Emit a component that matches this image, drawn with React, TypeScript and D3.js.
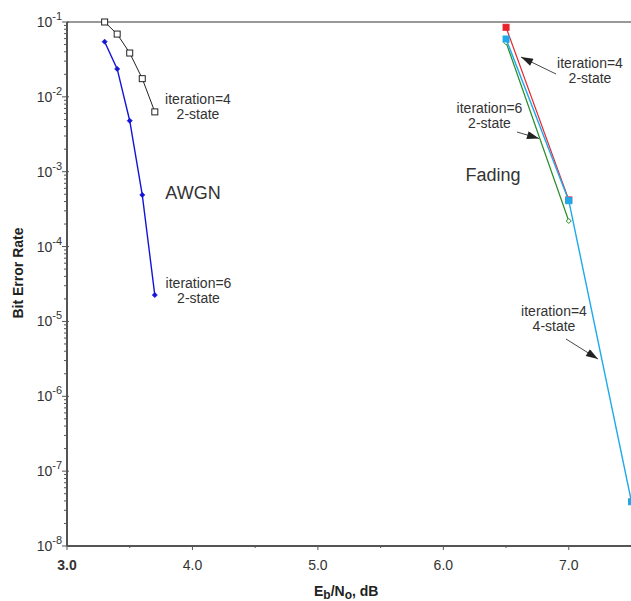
import * as d3 from 'd3';
import { useEffect, useRef } from 'react';

// Eb/No (dB) values of each curve
const ebnoAwgn = [3.3, 3.4, 3.5, 3.6, 3.7];
const ebnoFading2 = [6.5, 7.0];
const ebnoFading4 = [6.5, 7.0, 7.5];

// bit error rates
const berAwgnIt4 = [0.1, 0.069, 0.0385, 0.0175, 0.0063];
const berAwgnIt6 = [0.0546, 0.0236, 0.0048, 4.9e-4, 2.25e-5];
const berFadingIt4 = [0.085, 4.2e-4];
const berFadingIt6 = [0.0535, 2.2e-4];
const berFading4State = [0.0593, 4.1e-4, 3.9e-8];

const xTicks = [3, 4, 5, 6, 7];
const yExponents = [-1, -2, -3, -4, -5, -6, -7, -8];

const W = 631;
const H = 601;
const FONT = '"Liberation Sans", Arial, Helvetica, sans-serif';

const App = () => {
  const ref = useRef<SVGSVGElement | null>(null);

  useEffect(() => {
    const svg = d3.select(ref.current);
    svg.selectAll('*').remove();

    const x = d3.scaleLinear().domain([3, 7.5]).range([67, 631.5]);
    const y = d3.scaleLog().domain([1e-8, 1e-1]).range([546, 22]);

    // arrow head
    svg.append('defs').append('marker')
      .attr('id', 'arrow')
      .attr('viewBox', '0 0 12 8')
      .attr('refX', 12)
      .attr('refY', 4)
      .attr('markerWidth', 14)
      .attr('markerHeight', 8)
      .attr('markerUnits', 'userSpaceOnUse')
      .attr('orient', 'auto')
      .append('path')
      .attr('d', 'M0,0 L12,4 L0,8 Z')
      .attr('fill', '#222');

    const axisColor = '#555';

    // top border
    svg.append('line')
      .attr('x1', x(3)).attr('x2', W)
      .attr('y1', y(1e-1)).attr('y2', y(1e-1))
      .attr('stroke', '#777').attr('stroke-width', 1.5);

    // y minor + major ticks
    const yt = svg.append('g');
    yExponents.forEach(e => {
      const v = Math.pow(10, e);
      yt.append('line')
        .attr('x1', x(3) - 5).attr('x2', x(3) + 2)
        .attr('y1', y(v)).attr('y2', y(v))
        .attr('stroke', axisColor).attr('stroke-width', 1);
      if (e > -8) {
        for (let k = 2; k <= 9; k++) {
          yt.append('line')
            .attr('x1', x(3) - 3).attr('x2', x(3))
            .attr('y1', y(k * v / 10)).attr('y2', y(k * v / 10))
            .attr('stroke', axisColor).attr('stroke-width', 1);
        }
      }
      const t = yt.append('text')
        .attr('x', x(3) - 5)
        .attr('y', y(v) + 5)
        .attr('text-anchor', 'end')
        .attr('font-family', FONT)
        .attr('font-size', 14)
        .attr('fill', '#333');
      t.append('tspan').text('10');
      t.append('tspan').attr('dy', -7).attr('font-size', 11).text(String(e));
    });

    // x ticks
    const xt = svg.append('g');
    d3.range(3, 7.51, 0.5).forEach(v => {
      const major = Math.abs(v - Math.round(v)) < 1e-6;
      xt.append('line')
        .attr('x1', x(v)).attr('x2', x(v))
        .attr('y1', y(1e-8) - 1).attr('y2', y(1e-8) + (major ? 4 : 2))
        .attr('stroke', axisColor).attr('stroke-width', 1);
    });
    xTicks.forEach(v => {
      xt.append('text')
        .attr('x', x(v))
        .attr('y', 570)
        .attr('text-anchor', 'middle')
        .attr('font-family', FONT)
        .attr('font-size', 14)
        .attr('font-weight', v === 3 ? 'bold' : 'normal')
        .attr('fill', '#333')
        .text(v.toFixed(1));
    });

    // axis lines
    svg.append('line')
      .attr('x1', x(3)).attr('x2', x(3))
      .attr('y1', y(1e-1)).attr('y2', y(1e-8))
      .attr('stroke', axisColor).attr('stroke-width', 2);
    svg.append('line')
      .attr('x1', x(3)).attr('x2', W)
      .attr('y1', y(1e-8)).attr('y2', y(1e-8))
      .attr('stroke', axisColor).attr('stroke-width', 2);

    // axis titles
    svg.append('text')
      .attr('transform', 'translate(18,273) rotate(-90)')
      .attr('text-anchor', 'middle')
      .attr('dy', 5)
      .attr('font-family', FONT)
      .attr('font-size', 14)
      .attr('font-weight', 'bold')
      .attr('fill', '#222')
      .text('Bit Error Rate');

    const xl = svg.append('text')
      .attr('x', (x(3) + x(7.5)) / 2 - 3)
      .attr('y', 596)
      .attr('text-anchor', 'middle')
      .attr('font-family', FONT)
      .attr('font-size', 14)
      .attr('font-weight', 'bold')
      .attr('fill', '#222');
    xl.append('tspan').text('E');
    xl.append('tspan').attr('dy', 3).attr('font-size', 12).text('b');
    xl.append('tspan').attr('dy', -3).text('/N');
    xl.append('tspan').attr('dy', 3).attr('font-size', 12).text('o');
    xl.append('tspan').attr('dy', -3).text(', dB');

    const line = d3.line<[number, number]>().x(d => x(d[0])).y(d => y(d[1]));
    const pts = (xs: number[], ys: number[]) => xs.map((v, i) => [v, ys[i]] as [number, number]);

    const drawSeries = (
      xs: number[], ys: number[], color: string,
      marker: 'openSquare' | 'diamond' | 'square' | 'openCircle', size: number, width = 1.2
    ) => {
      const data = pts(xs, ys);
      const g = svg.append('g');
      g.append('path')
        .attr('d', line(data))
        .attr('fill', 'none')
        .attr('stroke', color)
        .attr('stroke-width', width);
      data.forEach(d => {
        const cx = x(d[0]);
        const cy = y(d[1]);
        if (marker === 'openSquare' || marker === 'square') {
          g.append('rect')
            .attr('x', cx - size / 2).attr('y', cy - size / 2)
            .attr('width', size).attr('height', size)
            .attr('fill', marker === 'square' ? color : '#fff')
            .attr('stroke', color).attr('stroke-width', 1);
        } else if (marker === 'diamond') {
          g.append('path')
            .attr('d', `M${cx},${cy - size / 2}L${cx + size / 2},${cy}L${cx},${cy + size / 2}L${cx - size / 2},${cy}Z`)
            .attr('fill', color).attr('stroke', color).attr('stroke-width', 0.8);
        } else {
          g.append('path')
            .attr('d', `M${cx},${cy - size / 2}L${cx + size / 2},${cy}L${cx},${cy + size / 2}L${cx - size / 2},${cy}Z`)
            .attr('fill', '#fff').attr('stroke', color).attr('stroke-width', 1);
        }
      });
    };

    drawSeries(ebnoAwgn, berAwgnIt4, '#222', 'openSquare', 6, 1);
    drawSeries(ebnoAwgn, berAwgnIt6, '#1414d8', 'diamond', 5, 1.4);
    drawSeries(ebnoFading2, berFadingIt6, '#2a8a2a', 'openCircle', 5, 1.2);
    drawSeries(ebnoFading2, berFadingIt4, '#e8232b', 'square', 6, 1.2);
    drawSeries(ebnoFading4, berFading4State, '#1eaaea', 'square', 6, 1.4);

    // annotations
    const label = (cx: number, cy: number, lines: string[], size = 14, lh = 15) => {
      const t = svg.append('text')
        .attr('text-anchor', 'middle')
        .attr('font-family', FONT)
        .attr('font-size', size)
        .attr('fill', '#333');
      lines.forEach((s, i) => {
        t.append('tspan').attr('x', cx).attr('y', cy + i * lh).text(s);
      });
    };
    label(198, 104, ['iteration=4', '2-state']);
    label(198.5, 288, ['iteration=6', '2-state']);
    label(193, 199, ['AWGN'], 18);
    label(493, 181, ['Fading'], 18);
    label(590, 68, ['iteration=4', '2-state']);
    label(489.5, 113, ['iteration=6', '2-state']);
    label(554, 316, ['iteration=4', '4-state']);

    const arrow = (x1: number, y1: number, x2: number, y2: number) => {
      svg.append('line')
        .attr('x1', x1).attr('y1', y1).attr('x2', x2).attr('y2', y2)
        .attr('stroke', '#333').attr('stroke-width', 0.9)
        .attr('marker-end', 'url(#arrow)');
    };
    arrow(556, 74, 521, 57);
    arrow(517, 132, 539, 138.5);
    arrow(566, 339, 598, 359);
  }, []);

  return (
    <div style={{ position: 'absolute', left: 0, top: 0 }}>
      <svg ref={ref} width={W} height={H} style={{ display: 'block', background: '#fff' }} />
    </div>
  );
};

export default App;
